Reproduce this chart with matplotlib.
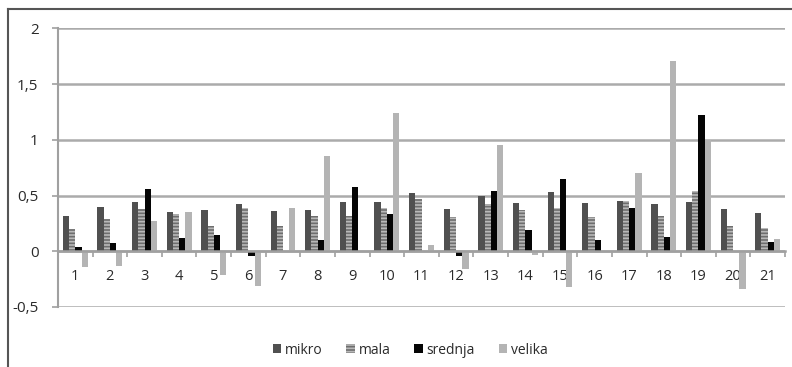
import matplotlib.pyplot as plt
import numpy as np
from matplotlib.lines import Line2D

categories = [str(i) for i in range(1, 22)]
mikro = [0.32, 0.40, 0.44, 0.35, 0.37, 0.42, 0.36, 0.37, 0.44, 0.44, 0.52,
         0.38, 0.50, 0.43, 0.53, 0.43, 0.455, 0.42, 0.44, 0.375, 0.34]
mala = [0.20, 0.29, 0.375, 0.335, 0.23, 0.39, 0.23, 0.315, 0.32, 0.385, 0.47,
        0.31, 0.42, 0.37, 0.39, 0.31, 0.45, 0.32, 0.54, 0.23, 0.21]
srednja = [0.04, 0.075, 0.56, 0.12, 0.15, -0.04, 0.0, 0.10, 0.58, 0.33, -0.01,
           -0.04, 0.54, 0.19, 0.65, 0.10, 0.39, 0.13, 1.22, 0.0, 0.08]
velika = [-0.14, -0.13, 0.27, 0.35, -0.21, -0.31, 0.39, 0.85, 0.0, 1.24, 0.06,
          -0.16, 0.95, -0.03, -0.32, 0.0, 0.70, 1.71, 1.00, -0.34, 0.11]
yticks = [-0.5, 0, 0.5, 1, 1.5, 2]
ytick_labels = ['-0,5', '0', '0,5', '1', '1,5', '2']

plt.rcParams['font.family'] = 'Open Sans'
plt.rcParams['hatch.linewidth'] = 1.2

fig = plt.figure(figsize=(7.92, 3.67), dpi=100)
ax = fig.add_axes([0.0732, 0.1635, 0.918, 0.7594])

x = np.arange(1, len(categories) + 1)
w = 0.18
ax.bar(x - 1.5 * w, mikro, w, color='#505050', linewidth=0, label='mikro')
ax.bar(x - 0.5 * w, mala, w, color='#6e6e6e', edgecolor='#b8b8b8',
       hatch='-----', linewidth=0, label='mala')
ax.bar(x + 0.5 * w, srednja, w, color='#050505', linewidth=0, label='srednja')
ax.bar(x + 1.5 * w, velika, w, color='#b4b4b4', linewidth=0, label='velika')

ax.set_xlim(0.5, len(categories) + 0.5)
ax.set_ylim(-0.5, 2)
ax.set_yticks(yticks)
ax.set_yticklabels(ytick_labels, fontsize=11, color='#2a2a2a')
ax.grid(axis='y', color='#ababab', linewidth=1.8)
ax.set_axisbelow(True)

# category axis sits on the zero line
ax.spines['bottom'].set_position(('data', 0))
ax.spines['bottom'].set_color('#a0a0a0')
ax.spines['bottom'].set_linewidth(1.8)
ax.spines['left'].set_color('#a0a0a0')
ax.spines['left'].set_linewidth(1.5)
ax.spines['top'].set_visible(False)
ax.spines['right'].set_visible(False)

ax.set_xticks(np.arange(0.5, len(categories) + 1, 1))
ax.set_xticklabels([])
ax.set_xticks(x, minor=True)
ax.set_xticklabels(categories, minor=True, fontsize=10.5, color='#2a2a2a')
ax.tick_params(axis='x', which='major', length=4, width=1.2, color='#a0a0a0', direction='out')
ax.tick_params(axis='x', which='minor', length=0, pad=13)
ax.tick_params(axis='y', length=4, width=1.2, color='#a0a0a0', pad=10)

fig.legend(loc='center', bbox_to_anchor=(0.518, 0.046), ncol=4, frameon=False,
           fontsize=10, handlelength=0.6, handleheight=0.6, handletextpad=0.3,
           columnspacing=1.7, labelcolor='#2a2a2a')

# outer frame of the original chart
fig.add_artist(Line2D([8 / 792, 8 / 792], [0, 1 - 9 / 367], transform=fig.transFigure,
                      color='#555555', linewidth=1.5))
fig.add_artist(Line2D([8 / 792, 1], [1 - 9 / 367, 1 - 9 / 367], transform=fig.transFigure,
                      color='#555555', linewidth=1.5))

fig.savefig('out.png', dpi=100)
